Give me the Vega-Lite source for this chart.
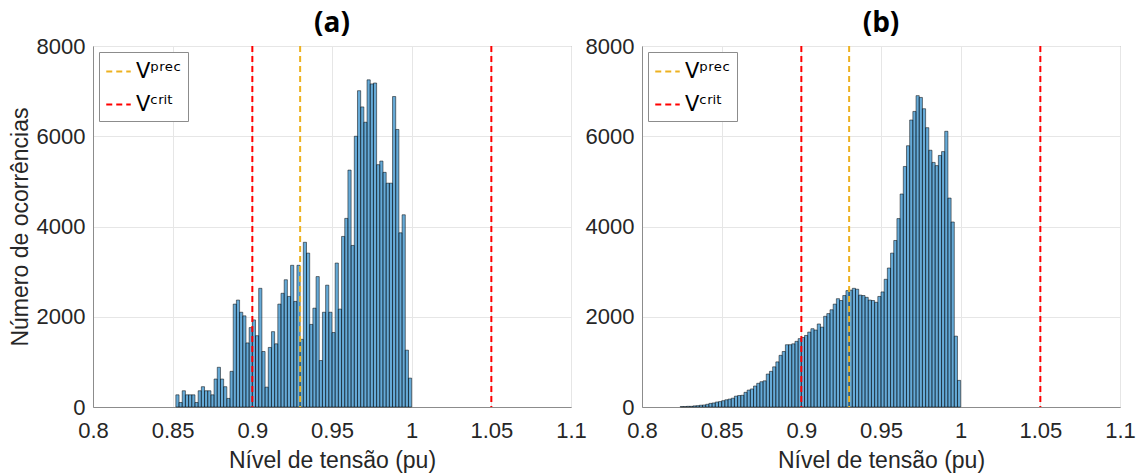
{
  "$schema": "https://vega.github.io/schema/vega-lite/v6.json",
  "padding": {"left": 8, "top": 9, "right": 4, "bottom": 0},
  "background": "white",
  "config": {
    "font": "Liberation Sans",
    "view": {"stroke": "#8c8c8c", "strokeWidth": 1},
    "axis": {
      "labelFont": "Liberation Sans", "labelFontSize": 22, "labelColor": "#262626",
      "titleFont": "Liberation Sans", "titleFontSize": 23, "titleFontWeight": "normal", "titleColor": "#262626",
      "domainColor": "#8c8c8c", "gridColor": "#e6e6e6", "ticks": false,
      "labelFlush": false, "labelOverlap": false
    },
    "axisX": {"labelPadding": 13, "titlePadding": 8},
    "axisY": {"labelPadding": 8, "titlePadding": 4},
    "title": {"font": "Open Sans", "fontSize": 28, "fontWeight": "bold", "color": "#000000", "offset": -3},
    "legend": {
      "orient": "top-left", "offset": 6, "fillColor": "white", "strokeColor": "#8c8c8c",
      "padding": 6, "symbolType": "stroke", "symbolStrokeWidth": 2, "symbolDash": [6, 4],
      "symbolSize": 600, "labelFont": "DejaVu Sans", "labelFontSize": 21, "labelColor": "#000000",
      "rowPadding": 9, "labelOffset": 4
    }
  },
  "datasets": {
    "a": [
      {"lo":0.852,"hi":0.854,"n":270},{"lo":0.854,"hi":0.856,"n":100},{"lo":0.856,"hi":0.858,"n":360},{"lo":0.858,"hi":0.860,"n":270},
      {"lo":0.860,"hi":0.862,"n":270},{"lo":0.862,"hi":0.864,"n":270},{"lo":0.864,"hi":0.866,"n":100},{"lo":0.866,"hi":0.868,"n":360},
      {"lo":0.868,"hi":0.870,"n":450},{"lo":0.870,"hi":0.872,"n":360},{"lo":0.872,"hi":0.874,"n":360},{"lo":0.874,"hi":0.876,"n":270},
      {"lo":0.876,"hi":0.878,"n":620},{"lo":0.878,"hi":0.880,"n":880},{"lo":0.880,"hi":0.882,"n":620},{"lo":0.882,"hi":0.884,"n":450},
      {"lo":0.884,"hi":0.886,"n":190},{"lo":0.886,"hi":0.888,"n":790},{"lo":0.888,"hi":0.890,"n":2280},{"lo":0.890,"hi":0.892,"n":2370},
      {"lo":0.892,"hi":0.894,"n":2100},{"lo":0.894,"hi":0.896,"n":2020},{"lo":0.896,"hi":0.898,"n":1420},{"lo":0.898,"hi":0.900,"n":1760},
      {"lo":0.900,"hi":0.902,"n":1930},{"lo":0.902,"hi":0.904,"n":1580},{"lo":0.904,"hi":0.906,"n":2630},{"lo":0.906,"hi":0.908,"n":1230},
      {"lo":0.908,"hi":0.910,"n":440},{"lo":0.910,"hi":0.912,"n":1320},{"lo":0.912,"hi":0.914,"n":1670},{"lo":0.914,"hi":0.916,"n":1400},
      {"lo":0.916,"hi":0.918,"n":2280},{"lo":0.918,"hi":0.920,"n":2520},{"lo":0.920,"hi":0.922,"n":2820},{"lo":0.922,"hi":0.924,"n":2450},
      {"lo":0.924,"hi":0.926,"n":3140},{"lo":0.926,"hi":0.928,"n":2340},{"lo":0.928,"hi":0.930,"n":3140},{"lo":0.930,"hi":0.932,"n":1500},
      {"lo":0.932,"hi":0.934,"n":3650},{"lo":0.934,"hi":0.936,"n":3410},{"lo":0.936,"hi":0.938,"n":1830},{"lo":0.938,"hi":0.940,"n":2190},
      {"lo":0.940,"hi":0.942,"n":2890},{"lo":0.942,"hi":0.944,"n":1030},{"lo":0.944,"hi":0.946,"n":2100},{"lo":0.946,"hi":0.948,"n":2700},
      {"lo":0.948,"hi":0.950,"n":2100},{"lo":0.950,"hi":0.952,"n":1650},{"lo":0.952,"hi":0.954,"n":3190},{"lo":0.954,"hi":0.956,"n":2170},
      {"lo":0.956,"hi":0.958,"n":3780},{"lo":0.958,"hi":0.960,"n":4180},{"lo":0.960,"hi":0.962,"n":5250},{"lo":0.962,"hi":0.964,"n":3580},
      {"lo":0.964,"hi":0.966,"n":6000},{"lo":0.966,"hi":0.968,"n":7010},{"lo":0.968,"hi":0.970,"n":6650},{"lo":0.970,"hi":0.972,"n":6310},
      {"lo":0.972,"hi":0.974,"n":7250},{"lo":0.974,"hi":0.976,"n":7160},{"lo":0.976,"hi":0.978,"n":7180},{"lo":0.978,"hi":0.980,"n":5370},
      {"lo":0.980,"hi":0.982,"n":5450},{"lo":0.982,"hi":0.984,"n":5200},{"lo":0.984,"hi":0.986,"n":4960},{"lo":0.986,"hi":0.988,"n":4960},
      {"lo":0.988,"hi":0.990,"n":6880},{"lo":0.990,"hi":0.992,"n":6150},{"lo":0.992,"hi":0.994,"n":3860},{"lo":0.994,"hi":0.996,"n":4260},
      {"lo":0.996,"hi":0.998,"n":1260},{"lo":0.998,"hi":1.000,"n":640}
    ],
    "b": [
      {"lo":0.824,"hi":0.826,"n":10},{"lo":0.826,"hi":0.828,"n":10},{"lo":0.828,"hi":0.830,"n":15},{"lo":0.830,"hi":0.832,"n":15},
      {"lo":0.832,"hi":0.834,"n":25},{"lo":0.834,"hi":0.836,"n":30},{"lo":0.836,"hi":0.838,"n":40},{"lo":0.838,"hi":0.840,"n":45},
      {"lo":0.840,"hi":0.842,"n":60},{"lo":0.842,"hi":0.844,"n":80},{"lo":0.844,"hi":0.846,"n":90},{"lo":0.846,"hi":0.848,"n":110},
      {"lo":0.848,"hi":0.850,"n":120},{"lo":0.850,"hi":0.852,"n":140},{"lo":0.852,"hi":0.854,"n":160},{"lo":0.854,"hi":0.856,"n":175},
      {"lo":0.856,"hi":0.858,"n":195},{"lo":0.858,"hi":0.860,"n":240},{"lo":0.860,"hi":0.862,"n":255},{"lo":0.862,"hi":0.864,"n":260},
      {"lo":0.864,"hi":0.866,"n":325},{"lo":0.866,"hi":0.868,"n":375},{"lo":0.868,"hi":0.870,"n":400},{"lo":0.870,"hi":0.872,"n":465},
      {"lo":0.872,"hi":0.874,"n":525},{"lo":0.874,"hi":0.876,"n":560},{"lo":0.876,"hi":0.878,"n":580},{"lo":0.878,"hi":0.880,"n":730},
      {"lo":0.880,"hi":0.882,"n":790},{"lo":0.882,"hi":0.884,"n":890},{"lo":0.884,"hi":0.886,"n":1000},{"lo":0.886,"hi":0.888,"n":1145},
      {"lo":0.888,"hi":0.890,"n":1230},{"lo":0.890,"hi":0.892,"n":1380},{"lo":0.892,"hi":0.894,"n":1380},{"lo":0.894,"hi":0.896,"n":1400},
      {"lo":0.896,"hi":0.898,"n":1455},{"lo":0.898,"hi":0.900,"n":1515},{"lo":0.900,"hi":0.902,"n":1540},{"lo":0.902,"hi":0.904,"n":1585},
      {"lo":0.904,"hi":0.906,"n":1660},{"lo":0.906,"hi":0.908,"n":1735},{"lo":0.908,"hi":0.910,"n":1705},{"lo":0.910,"hi":0.912,"n":1840},
      {"lo":0.912,"hi":0.914,"n":1770},{"lo":0.914,"hi":0.916,"n":2010},{"lo":0.916,"hi":0.918,"n":2070},{"lo":0.918,"hi":0.920,"n":2155},
      {"lo":0.920,"hi":0.922,"n":2280},{"lo":0.922,"hi":0.924,"n":2400},{"lo":0.924,"hi":0.926,"n":2360},{"lo":0.926,"hi":0.928,"n":2470},
      {"lo":0.928,"hi":0.930,"n":2580},{"lo":0.930,"hi":0.932,"n":2590},{"lo":0.932,"hi":0.934,"n":2630},{"lo":0.934,"hi":0.936,"n":2610},
      {"lo":0.936,"hi":0.938,"n":2480},{"lo":0.938,"hi":0.940,"n":2470},{"lo":0.940,"hi":0.942,"n":2430},{"lo":0.942,"hi":0.944,"n":2370},
      {"lo":0.944,"hi":0.946,"n":2360},{"lo":0.946,"hi":0.948,"n":2320},{"lo":0.948,"hi":0.950,"n":2450},{"lo":0.950,"hi":0.952,"n":2550},
      {"lo":0.952,"hi":0.954,"n":2830},{"lo":0.954,"hi":0.956,"n":3080},{"lo":0.956,"hi":0.958,"n":3410},{"lo":0.958,"hi":0.960,"n":3690},
      {"lo":0.960,"hi":0.962,"n":4175},{"lo":0.962,"hi":0.964,"n":4720},{"lo":0.964,"hi":0.966,"n":5330},{"lo":0.966,"hi":0.968,"n":5790},
      {"lo":0.968,"hi":0.970,"n":6360},{"lo":0.970,"hi":0.972,"n":6550},{"lo":0.972,"hi":0.974,"n":6900},{"lo":0.974,"hi":0.976,"n":6860},
      {"lo":0.976,"hi":0.978,"n":6610},{"lo":0.978,"hi":0.980,"n":6190},{"lo":0.980,"hi":0.982,"n":5690},{"lo":0.982,"hi":0.984,"n":5420},
      {"lo":0.984,"hi":0.986,"n":5350},{"lo":0.986,"hi":0.988,"n":5575},{"lo":0.988,"hi":0.990,"n":5660},{"lo":0.990,"hi":0.992,"n":6110},
      {"lo":0.992,"hi":0.994,"n":4630},{"lo":0.994,"hi":0.996,"n":4100},{"lo":0.996,"hi":0.998,"n":1570},{"lo":0.998,"hi":1.000,"n":590}
    ],
    "lines": [
      {"v": 0.93, "s": "Vᵖʳᵉᶜ"},
      {"v": 0.9, "s": "Vᶜʳⁱᵗ"},
      {"v": 1.05, "s": "Vᶜʳⁱᵗ"}
    ]
  },
  "spacing": 71,
  "bounds": "flush",
  "resolve": {"legend": {"color": "independent"}},
  "hconcat": [
    {
      "title": "(a)",
      "width": 478,
      "height": 361,
      "layer": [
        {
          "data": {"name": "a"},
          "mark": {"type": "bar", "fill": "#0072BD", "fillOpacity": 0.6, "stroke": "#000000", "strokeWidth": 0.6, "strokeOpacity": 0.85},
          "encoding": {
            "x": {"field": "lo", "type": "quantitative", "scale": {"domain": [0.8, 1.1], "nice": false, "zero": false},
                  "axis": {"title": "Nível de tensão (pu)", "values": [0.8, 0.85, 0.9, 0.95, 1, 1.05, 1.1], "format": "~g", "grid": true}},
            "x2": {"field": "hi"},
            "y": {"field": "n", "type": "quantitative", "scale": {"domain": [0, 8000], "nice": false},
                  "axis": {"title": "Número de ocorrências", "values": [0, 2000, 4000, 6000, 8000], "format": "d", "grid": true}},
            "y2": {"datum": 0}
          }
        },
        {
          "data": {"name": "lines"},
          "mark": {"type": "rule", "strokeDash": [6, 4], "strokeWidth": 2},
          "encoding": {
            "x": {"field": "v", "type": "quantitative"},
            "color": {"field": "s", "type": "nominal", "scale": {"domain": ["Vᵖʳᵉᶜ", "Vᶜʳⁱᵗ"], "range": ["#EDB120", "#FF0000"]},
                      "legend": {"title": null}}
          }
        }
      ]
    },
    {
      "title": "(b)",
      "width": 478,
      "height": 361,
      "layer": [
        {
          "data": {"name": "b"},
          "mark": {"type": "bar", "fill": "#0072BD", "fillOpacity": 0.6, "stroke": "#000000", "strokeWidth": 0.6, "strokeOpacity": 0.85},
          "encoding": {
            "x": {"field": "lo", "type": "quantitative", "scale": {"domain": [0.8, 1.1], "nice": false, "zero": false},
                  "axis": {"title": "Nível de tensão (pu)", "values": [0.8, 0.85, 0.9, 0.95, 1, 1.05, 1.1], "format": "~g", "grid": true}},
            "x2": {"field": "hi"},
            "y": {"field": "n", "type": "quantitative", "scale": {"domain": [0, 8000], "nice": false},
                  "axis": {"title": null, "values": [0, 2000, 4000, 6000, 8000], "format": "d", "grid": true}},
            "y2": {"datum": 0}
          }
        },
        {
          "data": {"name": "lines"},
          "mark": {"type": "rule", "strokeDash": [6, 4], "strokeWidth": 2},
          "encoding": {
            "x": {"field": "v", "type": "quantitative"},
            "color": {"field": "s", "type": "nominal", "scale": {"domain": ["Vᵖʳᵉᶜ", "Vᶜʳⁱᵗ"], "range": ["#EDB120", "#FF0000"]},
                      "legend": {"title": null}}
          }
        }
      ]
    }
  ]
}
